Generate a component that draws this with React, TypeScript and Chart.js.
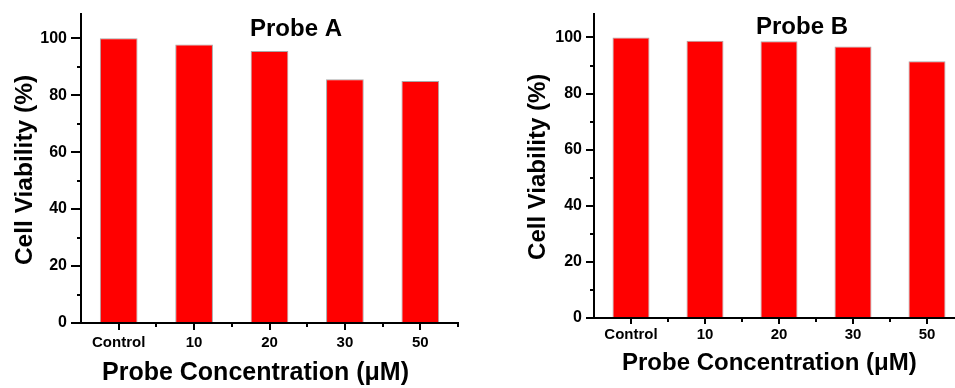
import { useEffect, useRef } from 'react';
import { Chart, registerables } from 'chart.js';

Chart.register(...registerables);

const categories = ['Control', '10', '20', '30', '50'];
const probeAValues = [100, 97.8, 95.5, 85.6, 85.0];
const probeBValues = [100, 98.8, 98.6, 96.8, 91.5];
const yMin = 0;
const yMax = 108.5;
const yStep = 20;
const yMinorTicks = [10, 30, 50, 70, 90];
const panelTitles = ['Probe A', 'Probe B'];
const xAxisTitle = 'Probe Concentration (\u03bcM)';
const yAxisTitle = 'Cell Viability (%)';

const FONT = '"Liberation Sans", Arial, Helvetica, sans-serif';

const decorPlugin = {
  id: 'decor',
  afterDraw(chart: any, _args: any, opts: any) {
    const ctx = chart.ctx as CanvasRenderingContext2D;
    const { left, right, bottom, top } = chart.chartArea;
    const xs = chart.scales.x;
    const ys = chart.scales.y;
    ctx.save();
    ctx.strokeStyle = '#000';
    ctx.lineWidth = 2;
    for (const v of yMinorTicks) {
      const py = Math.round(ys.getPixelForValue(v));
      ctx.beginPath();
      ctx.moveTo(left - opts.yMinorLen, py);
      ctx.lineTo(left, py);
      ctx.stroke();
    }
    const n = categories.length;
    for (let i = 0; i < n; i++) {
      const px =
        i < n - 1
          ? Math.round((xs.getPixelForValue(i) + xs.getPixelForValue(i + 1)) / 2)
          : right;
      ctx.beginPath();
      ctx.moveTo(px, bottom);
      ctx.lineTo(px, bottom + opts.xMinorLen);
      ctx.stroke();
    }
    ctx.fillStyle = '#000';
    ctx.textBaseline = 'alphabetic';
    // panel title
    ctx.font = `bold ${opts.titleSize}px ${FONT}`;
    ctx.textAlign = 'center';
    ctx.fillText(opts.title, opts.titleX, opts.titleY);
    // x axis title
    ctx.font = `bold ${opts.xTitleSize}px ${FONT}`;
    ctx.textAlign = 'left';
    ctx.fillText(xAxisTitle, opts.xTitleX, opts.xTitleY);
    // y axis title
    ctx.font = `bold ${opts.yTitleSize}px ${FONT}`;
    ctx.textAlign = 'center';
    ctx.translate(opts.yTitleX, (top + bottom) / 2 + opts.yTitleDy);
    ctx.rotate(-Math.PI / 2);
    ctx.fillText(yAxisTitle, 0, 0);
    ctx.restore();
  },
};

type PanelProps = {
  values: number[];
  title: string;
  canvasLeft: number;
  canvasWidth: number;
  padTop: number;
  padRight: number;
  yWidth: number;
  xHeight: number;
  yTickLen: number;
  yTickPad: number;
  xTickLen: number;
  xTickPad: number;
  deco: any;
};

function Panel(p: PanelProps) {
  const ref = useRef<HTMLCanvasElement | null>(null);
  useEffect(() => {
    if (!ref.current) return;
    const chart = new Chart(ref.current, {
      type: 'bar',
      data: {
        labels: categories,
        datasets: [
          {
            data: p.values,
            backgroundColor: '#ff0000',
            borderColor: '#a8a8a8',
            borderWidth: 1,
            barPercentage: 0.5,
            categoryPercentage: 1,
          },
        ],
      },
      plugins: [decorPlugin],
      options: {
        responsive: false,
        animation: false,
        devicePixelRatio: 1,
        layout: { padding: { left: 0, top: p.padTop, right: p.padRight, bottom: 0 } },
        plugins: {
          legend: { display: false },
          tooltip: { enabled: false },
          decor: p.deco,
        } as any,
        scales: {
          x: {
            offset: true,
            grid: {
              offset: false,
              drawOnChartArea: false,
              drawTicks: true,
              tickLength: p.xTickLen,
              tickColor: '#000',
              tickWidth: 2,
              color: '#000',
              lineWidth: 2,
            },
            border: { display: true, color: '#000', width: 2 },
            ticks: {
              color: '#000',
              padding: p.xTickPad,
              maxRotation: 0,
              autoSkip: false,
              font: { family: FONT, size: 15, weight: 'bold' },
            },
            afterFit: (s: any) => {
              s.height = p.xHeight;
            },
          },
          y: {
            min: yMin,
            max: yMax,
            grid: {
              drawOnChartArea: false,
              drawTicks: true,
              tickLength: p.yTickLen,
              tickColor: '#000',
              tickWidth: 2,
              color: '#000',
              lineWidth: 2,
            },
            border: { display: true, color: '#000', width: 2 },
            ticks: {
              stepSize: yStep,
              includeBounds: false,
              color: '#000',
              padding: p.yTickPad,
              font: { family: FONT, size: 16, weight: 'bold' },
            },
            afterFit: (s: any) => {
              s.width = p.yWidth;
            },
          },
        } as any,
      },
    });
    return () => chart.destroy();
  }, []);
  return (
    <div style={{ position: 'absolute', left: p.canvasLeft, top: 0, width: p.canvasWidth, height: 388 }}>
      <canvas ref={ref} width={p.canvasWidth} height={388} style={{ display: 'block' }} />
    </div>
  );
}

export default function App() {
  return (
    <div
      style={{
        position: 'fixed',
        left: 0,
        top: 0,
        width: 955,
        height: 388,
        overflow: 'hidden',
        background: '#fff',
      }}
    >
      <Panel
        values={probeAValues}
        title={panelTitles[0]}
        canvasLeft={0}
        canvasWidth={480}
        padTop={14}
        padRight={22}
        yWidth={81}
        xHeight={65}
        yTickLen={10}
        yTickPad={4}
        xTickLen={7}
        xTickPad={4}
        deco={{
          title: panelTitles[0],
          titleSize: 24,
          titleX: 296,
          titleY: 36,
          xTitleSize: 25,
          xTitleX: 102,
          xTitleY: 380,
          yTitleSize: 24.5,
          yTitleX: 32,
          yTitleDy: 1.5,
          yMinorLen: 4,
          xMinorLen: 4,
        }}
      />
      <Panel
        values={probeBValues}
        title={panelTitles[1]}
        canvasLeft={480}
        canvasWidth={500}
        padTop={13}
        padRight={16}
        yWidth={114}
        xHeight={70}
        yTickLen={8}
        yTickPad={4}
        xTickLen={6}
        xTickPad={2}
        deco={{
          title: panelTitles[1],
          titleSize: 24,
          titleX: 322,
          titleY: 33.5,
          xTitleSize: 24,
          xTitleX: 142,
          xTitleY: 370,
          yTitleSize: 24,
          yTitleX: 65,
          yTitleDy: 1,
          yMinorLen: 4,
          xMinorLen: 4,
        }}
      />
    </div>
  );
}
